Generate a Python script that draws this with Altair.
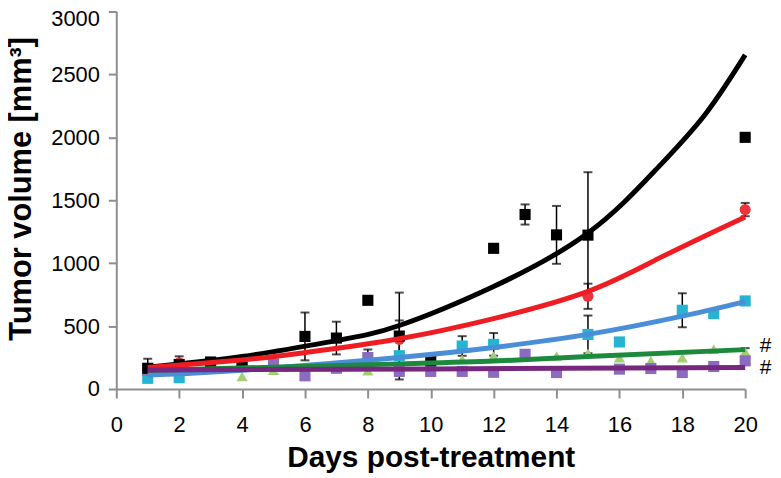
import altair as alt
import pandas as pd

# ---- measured points (day, mean volume, error) ----
blk_day = [1, 2, 3, 4, 6, 7, 8, 9, 10, 12, 13, 14, 15, 20]
blk_val = [165, 195, 215, 215, 418, 405, 705, 421, 225, 1118, 1387, 1225, 1223, 2000]
blk_err = [75, 65, 25, 45, 190, 130, 0, 345, 0, 0, 80, 230, 500, 0]

red_day = [1, 2, 3, 9, 15, 20]
red_val = [160, 208, 200, 395, 737, 1426]
red_err = [0, 0, 0, 150, 100, 53]

cyn_day = [1, 2, 4, 9, 11, 12, 15, 16, 18, 19, 20]
cyn_val = [85, 90, 195, 265, 342, 355, 434, 374, 626, 600, 700]
cyn_err = [0, 0, 0, 0, 78, 90, 150, 0, 135, 0, 0]

lgr_day = [1, 4, 5, 8, 10, 11, 12, 14, 15, 16, 17, 18, 19, 20]
lgr_val = [140, 100, 150, 145, 200, 237, 263, 263, 284, 250, 224, 250, 316, 295]
lgr_err = [0, 0, 0, 0, 0, 0, 0, 0, 0, 0, 0, 0, 0, 30]

pur_day = [1, 5, 6, 7, 8, 9, 10, 11, 12, 13, 14, 16, 17, 18, 19, 20]
pur_val = [150, 200, 105, 165, 250, 140, 140, 140, 133, 276, 131, 158, 163, 131, 179, 224]
pur_err = [0, 0, 0, 0, 65, 0, 0, 0, 0, 0, 0, 0, 0, 0, 0, 0]

# ---- trend curves ----
blk_fit_day = [1, 4, 7, 9, 12, 15, 17.15, 18.72, 20]
blk_fit_val = [174, 258, 385, 505, 815, 1240, 1740, 2180, 2655]
red_fit_day = [1, 4, 6, 9, 12, 15, 17.36, 20]
red_fit_val = [171, 231, 290, 400, 560, 776, 1052, 1368]
blu_fit_day = [1, 4, 9, 12, 15, 18, 20]
blu_fit_val = [112, 150, 250, 330, 434, 579, 695]
grn_fit_day = [1, 9, 12, 15, 20]
grn_fit_val = [148, 200, 222, 258, 313]
pur_fit_day = [1, 10, 20]
pur_fit_val = [152, 160, 171]

# ---- annotation marks ----
hash_day = [20.65, 20.65]
hash_val = [342, 168]
hash_txt = ["#", "#"]

x_ticks = list(range(0, 21, 2))
y_ticks = list(range(0, 3001, 500))

FONT = "Liberation Sans, Arial, Helvetica, sans-serif"
AX_GRAY = "#8e8e8e"

def X(field):
    return alt.X(
        f"{field}:Q",
        scale=alt.Scale(domain=[0, 20], nice=False, zero=False),
        axis=alt.Axis(
            values=x_ticks, title="Days post-treatment", grid=False,
            domainColor=AX_GRAY, domainWidth=2, tickColor=AX_GRAY, tickWidth=2,
            tickSize=9, labelFontSize=22, labelFont=FONT, labelColor="#000",
            labelPadding=17, labelFlush=False, titleFont=FONT, titleFontSize=30,
            titleFontWeight="bold", titleColor="#000", titleY=78,
            titleBaseline="alphabetic",
        ),
    )

def Y(field):
    return alt.Y(
        f"{field}:Q",
        scale=alt.Scale(domain=[0, 3000], nice=False),
        axis=alt.Axis(
            values=y_ticks, format="d", title="Tumor volume [mm³]", grid=False,
            domainColor=AX_GRAY, domainWidth=2, tickColor=AX_GRAY, tickWidth=2,
            tickSize=8, labelFontSize=22, labelFont=FONT, labelColor="#000",
            labelPadding=9, labelFlush=False,
            labelOffset={"condition": {"test": "datum.value === 3000", "value": 7}, "value": 0},
            titleFont=FONT, titleFontSize=31, titleFontWeight="bold",
            titleColor="#000", titleX=-79, titleY=178, titleAngle=270,
            titleBaseline="bottom", titleAlign="center",
        ),
    )

series = [
    ("lgreen", lgr_day, lgr_val, lgr_err),
    ("cyan", cyn_day, cyn_val, cyn_err),
    ("purple", pur_day, pur_val, pur_err),
    ("red", red_day, red_val, red_err),
    ("black", blk_day, blk_val, blk_err),
]
rows = []
for name, d, v, e in series:
    for a, b, c in zip(d, v, e):
        rows.append({"day": a, "vol": b, "err": c, "grp": name})
pts = pd.DataFrame(rows)

grp_dom = ["lgreen", "cyan", "purple", "red", "black"]
pt_colors = ["#a2cf74", "#25b5d2", "#8a6bbf", "#e8363c", "#000000"]
pt_shapes = ["triangle-up", "square", "square", "circle", "square"]
pt_sizes = [125, 125, 125, 135, 125]

err_df = pts[pts["err"] > 0]
err_base = alt.Chart(err_df).transform_calculate(
    lo="datum.vol - datum.err", hi="datum.vol + datum.err"
)
err_rule = err_base.mark_rule(color="#000", strokeWidth=1.5).encode(
    x=X("day"), y=Y("lo"), y2="hi:Q"
)
cap_lo = err_base.mark_tick(color="#000", orient="horizontal", size=9, thickness=2).encode(
    x=X("day"), y=Y("lo")
)
cap_hi = err_base.mark_tick(color="#000", orient="horizontal", size=9, thickness=2).encode(
    x=X("day"), y=Y("hi")
)

points = alt.Chart(pts).mark_point(filled=True, opacity=1).encode(
    x=X("day"), y=Y("vol"),
    color=alt.Color("grp:N", scale=alt.Scale(domain=grp_dom, range=pt_colors), legend=None),
    shape=alt.Shape("grp:N", scale=alt.Scale(domain=grp_dom, range=pt_shapes), legend=None),
    size=alt.Size("grp:N", scale=alt.Scale(domain=grp_dom, range=pt_sizes), legend=None),
)

fits = [
    (blu_fit_day, blu_fit_val, "#4a8ed8"),
    (grn_fit_day, grn_fit_val, "#1b8a3d"),
    (blk_fit_day, blk_fit_val, "#000000"),
    (red_fit_day, red_fit_val, "#ee1d23"),
    (pur_fit_day, pur_fit_val, "#76287f"),
]
lines = []
for d, v, col in fits:
    df = pd.DataFrame({"day": d, "fit": v})
    lines.append(
        alt.Chart(df).mark_line(color=col, strokeWidth=5, interpolate="natural").encode(
            x=X("day"), y=Y("fit")
        )
    )

hash_df = pd.DataFrame({"day": hash_day, "vol": hash_val, "t": hash_txt})
hashes = alt.Chart(hash_df).mark_text(fontSize=21, font=FONT, color="#000").encode(
    x=X("day"), y=Y("vol"), text="t:N"
)

chart = alt.layer(err_rule, cap_lo, cap_hi, points, *lines, hashes).properties(
    width=633, height=380,
    autosize=alt.AutoSizeParams(type="none"),
    padding={"left": 109, "top": 2, "right": 28, "bottom": 84},
).configure_view(stroke=None)

chart.save("out.html", embed_options={"renderer": "svg", "actions": False})
